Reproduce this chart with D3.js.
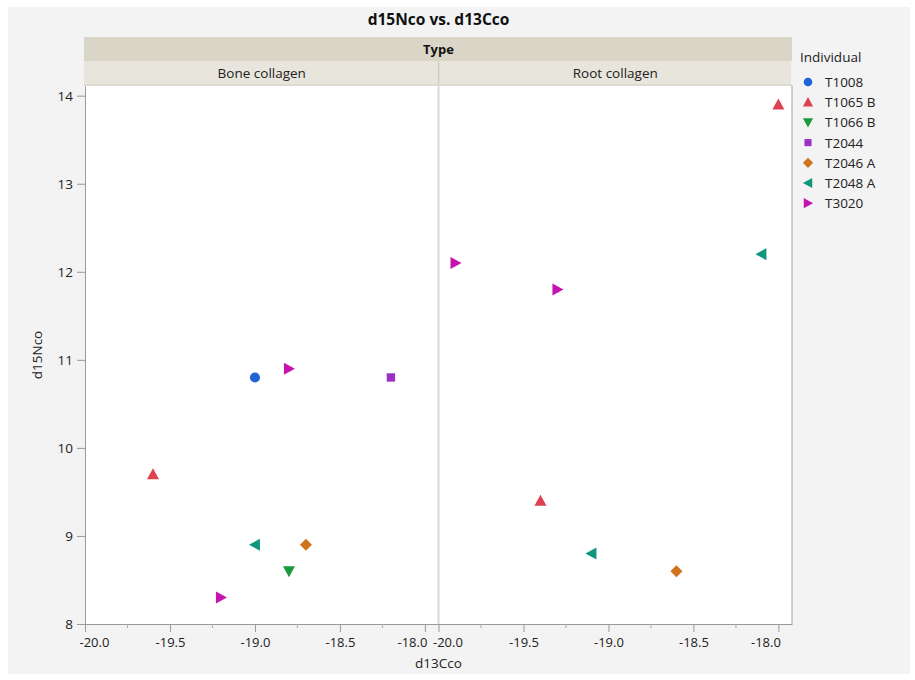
<!DOCTYPE html>
<html><head><meta charset="utf-8">
<script src="https://cdn.jsdelivr.net/npm/d3@7"></script>
<style>body{margin:0;background:#fff;} text{font-family:"Open Sans","Noto Sans",sans-serif;}</style>
</head><body><svg id="c" width="915" height="680"></svg>
<script>
const panels = ["Bone collagen", "Root collagen"];
const individuals = ["T1008", "T1065 B", "T1066 B", "T2044", "T2046 A", "T2048 A", "T3020"];
const colors = ["#1f63d6", "#de4152", "#1b9a3b", "#9b30c4", "#d0721c", "#0f977d", "#c414b0"];
const shapes = ["circle", "up", "down", "square", "diamond", "left", "right"];
const pointPanel = ["Bone collagen","Bone collagen","Bone collagen","Bone collagen","Bone collagen","Bone collagen","Bone collagen","Bone collagen",
                    "Root collagen","Root collagen","Root collagen","Root collagen","Root collagen","Root collagen","Root collagen"];
const pointInd = ["T1008","T3020","T2044","T1065 B","T2048 A","T2046 A","T1066 B","T3020",
                  "T1065 B","T2048 A","T3020","T3020","T1065 B","T2048 A","T2046 A"];
const d13C = [-19.0,-18.8,-18.2,-19.6,-19.0,-18.7,-18.8,-19.2,
              -18.0,-18.1,-19.9,-19.3,-19.4,-19.1,-18.6];
const d15N = [10.8,10.9,10.8,9.7,8.9,8.9,8.6,8.3,
              13.9,12.2,12.1,11.8,9.4,8.8,8.6];
const xTicks = [-20.0,-19.5,-19.0,-18.5,-18.0];
const xMinor = [-19.75,-19.25,-18.75,-18.25];
const yTicks = [8,9,10,11,12,13,14];

const svg = d3.select("#c");
svg.append("rect").attr("x",8).attr("y",7).attr("width",902).attr("height",667).attr("fill","#f3f3f3");

const plotL = 85, plotR = 792, plotT = 86, plotB = 624;
const pw = (plotR - plotL)/2;
const y = d3.scaleLinear().domain([8, 14.11]).range([plotB, plotT]);
const xs = panels.map((p,i)=>d3.scaleLinear().domain([-20, -17.92]).range([plotL+i*pw, plotL+(i+1)*pw]));

// headers
svg.append("rect").attr("x",plotL-1).attr("y",37).attr("width",plotR-plotL+1).attr("height",24).attr("fill","#d9d5c7");
svg.append("text").attr("x",(plotL+plotR)/2).attr("y",54).attr("text-anchor","middle").attr("font-size",13).attr("font-weight","bold").attr("fill","#111").text("Type");
panels.forEach((p,i)=>{
  svg.append("rect").attr("x",plotL-1+i*pw+(i?1:0)).attr("y",61).attr("width",pw-(i?1:0)).attr("height",23).attr("fill","#e8e5dc");
  svg.append("text").attr("x",plotL+i*pw+pw/2).attr("y",78).attr("text-anchor","middle").attr("font-size",13.5).attr("fill","#222").text(p);
});
svg.append("line").attr("x1",plotL+pw).attr("x2",plotL+pw).attr("y1",61).attr("y2",84).attr("stroke","#cfcbc0").attr("stroke-width",1.5);
svg.append("rect").attr("x",plotL-1).attr("y",84).attr("width",plotR-plotL+1).attr("height",2).attr("fill","#dedad0");

// plot background
svg.append("rect").attr("x",plotL).attr("y",plotT).attr("width",plotR-plotL).attr("height",plotB-plotT).attr("fill","#fff");
svg.append("line").attr("x1",plotL+pw).attr("x2",plotL+pw).attr("y1",plotT).attr("y2",plotB).attr("stroke","#d9d9d9").attr("stroke-width",2);
svg.append("line").attr("x1",plotR).attr("x2",plotR).attr("y1",plotT).attr("y2",plotB).attr("stroke","#a0a0a0").attr("stroke-width",1);

// title
svg.append("text").attr("x",(plotL+plotR)/2).attr("y",25).attr("text-anchor","middle").attr("font-size",15.5).attr("font-weight","bold").attr("fill","#111").text("d15Nco vs. d13Cco");

// y axis
const ya = svg.append("g").attr("transform",`translate(${plotL},0)`).call(d3.axisLeft(y).tickValues(yTicks).tickFormat(d3.format("d")).tickSize(8).tickPadding(4).tickSizeOuter(0));
ya.select(".domain").attr("stroke","#999");
ya.selectAll(".tick line").attr("stroke","#999");
ya.selectAll(".tick text").attr("font-size",13.5).attr("fill","#222").attr("font-family","Open Sans, Noto Sans, sans-serif");

// x axes
xs.forEach((x,i)=>{
  const g = svg.append("g").attr("transform",`translate(0,${plotB})`).call(d3.axisBottom(x).tickValues(xTicks).tickFormat(d3.format(".1f")).tickSize(8).tickSizeOuter(0).tickPadding(6));
  g.select(".domain").attr("stroke","#999");
  g.selectAll(".tick line").attr("stroke","#999");
  g.selectAll(".tick text").attr("font-size",13).attr("fill","#222").attr("font-family","Open Sans, Noto Sans, sans-serif")
    .text(d=>d3.format(".1f")(d).replace("−","-"))
    .attr("text-anchor",(d,j)=> j===0 ? "start" : (j===xTicks.length-1 ? "end" : "middle"))
    .attr("x",(d,j)=> j===0 ? -6 : (j===xTicks.length-1 ? 2 : 0));
  g.selectAll(".minor").data(xMinor).enter().append("line").attr("x1",d=>x(d)).attr("x2",d=>x(d)).attr("y1",0).attr("y2",4).attr("stroke","#aaa");
});

svg.append("text").attr("x",(plotL+plotR)/2).attr("y",668).attr("text-anchor","middle").attr("font-size",13.5).attr("fill","#222").text("d13Cco");
svg.append("text").attr("transform",`translate(42,${(plotT+plotB)/2}) rotate(-90)`).attr("text-anchor","middle").attr("font-size",13.5).attr("fill","#222").text("d15Nco");

// marker generator
function markerPath(shape){
  switch(shape){
    case "circle": return d3.symbol().type(d3.symbolCircle).size(80)();
    case "square": return d3.symbol().type(d3.symbolSquare).size(70)();
    case "diamond": return "M0,-6L6,0L0,6L-6,0Z";
    case "up": return "M0,-6L6,5L-6,5Z";
    case "down": return "M0,6L6,-5L-6,-5Z";
    case "left": return "M-6,0L5,-6L5,6Z";
    case "right": return "M6,0L-5,-6L-5,6Z";
  }
}

const pts = d3.range(d13C.length).map(i=>({p:pointPanel[i], ind:pointInd[i], x:d13C[i], y:d15N[i]}));
svg.append("g").selectAll("path").data(pts).enter().append("path")
  .attr("transform",d=>`translate(${xs[panels.indexOf(d.p)](d.x)},${y(d.y)})`)
  .attr("d",d=>markerPath(shapes[individuals.indexOf(d.ind)]))
  .attr("fill",d=>colors[individuals.indexOf(d.ind)]);

// legend
const lg = svg.append("g").attr("transform","translate(800,0)");
lg.append("text").attr("x",0).attr("y",62).attr("font-size",13.5).attr("fill","#222").text("Individual");
individuals.forEach((ind,i)=>{
  const yy = 82 + i*20.2;
  lg.append("path").attr("transform",`translate(8,${yy}) scale(0.85)`).attr("d",markerPath(shapes[i])).attr("fill",colors[i]);
  lg.append("text").attr("x",25).attr("y",yy+5).attr("font-size",13.5).attr("fill","#222").text(ind);
});
</script></body></html>
